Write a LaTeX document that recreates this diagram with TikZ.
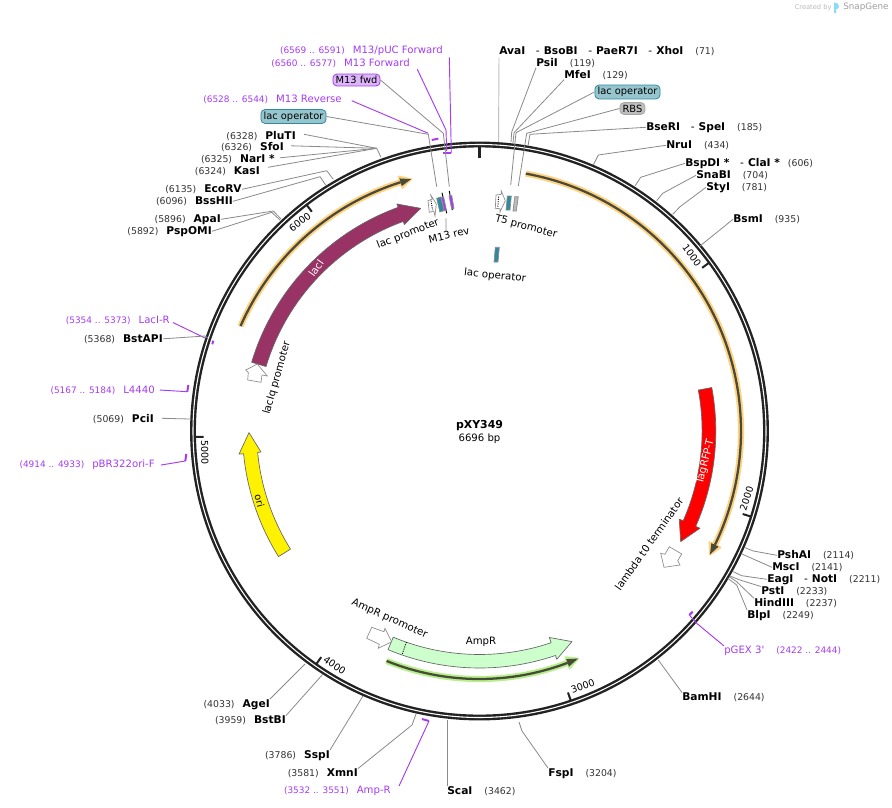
\documentclass[tikz,border=0pt]{standalone}
\usepackage{fontspec}
\setmainfont{DejaVu Sans}
\newfontfamily\plainfam{DejaVu Sans}
\definecolor{ringc}{HTML}{222222}
\definecolor{leadc}{HTML}{8A8A8A}
\definecolor{primc}{HTML}{A63CF0}
\definecolor{posc}{HTML}{333333}
\definecolor{halo}{HTML}{FFD27F}
\definecolor{halog}{HTML}{B5F08A}
\definecolor{dark}{HTML}{4A4A3A}
\definecolor{lacblue}{HTML}{2F8A9E}
\definecolor{maroon}{HTML}{993366}
\tikzset{
  x=0.75pt,y=0.75pt,
  leader/.style={draw=leadc,line width=0.6pt},
  pleader/.style={draw=primc,line width=0.7pt},
  brk/.style={draw=primc,line width=1.5pt},
  txt/.style={inner sep=0pt,font=\fontsize{7.7}{9.6}\selectfont,text=black},
  slab/.style={inner sep=0pt,font=\fontsize{8}{9.6}\selectfont,text=black,yshift=-0.6pt},
  ptxt/.style={inner sep=0pt,font=\fontsize{7.6}{9.6}\selectfont,text=primc,yshift=-0.4pt},
  pill/.style={rounded corners=3pt,inner xsep=2pt,inner ysep=1.6pt,line width=0.6pt,font=\fontsize{7.4}{9}\selectfont,text=black},
  feat/.style={draw=gray!90,line width=0.5pt},
  ticklab/.style={inner sep=0pt,font=\fontsize{7.2}{9}\selectfont,text=black},
}
\newcommand{\ps}[1]{{\fontsize{7}{9}\selectfont\color{posc}#1}}
\newcommand{\pp}[1]{{\fontsize{6.7}{9}\selectfont #1}}
\newcommand{\gp}{\hspace{8pt}-\hspace{3pt}}
\newcommand{\rsite}[5]{\node[slab,anchor=west] (#1) at (#2,-#3) {\textbf{#4}\hspace{9pt}\ps{#5}};}
\newcommand{\lsite}[5]{\node[slab,anchor=east] (#1) at (#2,-#3) {\ps{#5}\hspace{6pt}\textbf{#4}};}
\newcommand{\leads}[7][leader]{%
  \coordinate (#2a) at (#4,-#5);\coordinate (#2b) at (#6,-#7);
  \draw[#1] (#3) -- (#2a) -- (#2b);}
% curved arrow: fill, r1, r2, r1o, r2o, rt, a-start, a-shoulder, a-tip
\newcommand{\garrow}[9]{%
  \draw[draw=gray!80!black,line width=0.5pt,fill=#1,line join=round] (#7:#3) arc[start angle=#7,end angle=#8,radius=#3] -- (#8:#5) -- (#9:#6) -- (#8:#4) -- (#8:#2) arc[start angle=#8,end angle=#7,radius=#2] -- cycle;}
% thin line arrow with halo: halo, r, start, tip, base
\newcommand{\harrow}[5]{%
  \draw[#1,line width=4.6pt] (#3:#2) arc[start angle=#3,end angle=#5,radius=#2];
  \fill[#1,draw=#1,line width=1.4pt,line join=round] (#5:#2+6) -- (#4:#2) -- (#5:#2-6) -- cycle;
  \draw[dark,line width=1.7pt] (#3:#2) arc[start angle=#3,end angle=#5,radius=#2];
  \fill[dark] (#5:#2+4) -- (#4:#2) -- (#5:#2-4) -- cycle;}
\newcommand{\gtick}[3]{%
  \draw[ringc,line width=1.5pt] (#1:284.5) -- (#1:276);
  \pgfmathsetmacro{\lblang}{#1+3.3}
  \node[ticklab,rotate=#3] (tick#2) at (\lblang:275.5) {#2};}
\begin{document}
\begin{tikzpicture}
\useasboundingbox (0,0) rectangle (892,-807);
\fill[white] (0,0) rectangle (892,-807);

% logo
\node[inner sep=0pt,font=\fontsize{5}{6}\selectfont,text=gray!55,anchor=west] (created) at (794.5,-7.5) {Created by};
\fill[cyan!45] (834,-2.5) .. controls (840,-2.5) and (840.5,-9) .. (836,-9.5) -- (836,-13) -- (834,-13) -- cycle;
\node[inner sep=0pt,font=\fontsize{6.6}{7}\selectfont,text=gray!75,anchor=west] (snap) at (843,-7.5) {SnapGene};

\begin{scope}[shift={(479.5,-431)}]
  \draw[ringc,line width=4.4pt] (0,0) circle[radius=286.5];
  \draw[white,line width=0.8pt] (0,0) circle[radius=286.5];
  \draw[ringc,line width=2.2pt] (90:285) -- (90:273);
  \gtick{36.24}{1000}{-53.76}
  \gtick{-17.5}{2000}{72.5}
  \gtick{-71.3}{3000}{18.7}
  \gtick{-125}{4000}{-35}
  \gtick{-178.8}{5000}{-88.8}
  \gtick{127.4}{6000}{37.4}
  \harrow{halo}{261.5}{79.8}{-28.2}{-25.8}
  \harrow{halo}{261}{156.3}{105.2}{107.6}
  \harrow{halog}{248}{-112}{-66.6}{-69.2}
  \garrow{red}{222.6}{236.3}{218.3}{241}{229.6}{10.6}{-23.8}{-28.8}
  \garrow{yellow}{222.9}{237}{219.5}{241.6}{230.5}{212}{185.5}{180.4}
  \garrow{green!20}{223.5}{237}{218}{241}{230}{-112.7}{-71.3}{-66.3}
  \garrow{maroon}{223}{238}{219.7}{241.6}{230.3}{163.2}{110}{104.8}
  \draw[black,densely dotted,line width=0.7pt] (-109.1:223.5) -- (-109.1:237);
\end{scope}

% open promoter / terminator arrows
\draw[feat,fill=white] (366.7,-638.3) -- (371.7,-627.3) -- (384,-631.7) -- (385,-628.3) -- (391.7,-641.7) -- (378.3,-648.3) -- (379.3,-644.3) -- cycle;
\draw[feat,fill=white] (257.3,-364) -- (267.3,-376) -- (262,-375) -- (261,-382.3) -- (247.7,-380) -- (248.3,-372.3) -- (245.7,-370) -- cycle;
\draw[feat,fill=white] (669.3,-546.7) -- (681.7,-554) -- (677.7,-560.7) -- (680,-565) -- (664,-567.3) -- (660.7,-553.3) -- (665,-554.3) -- cycle;
\draw[feat,fill=white] (496,-195) -- (501.3,-194.3) -- (501.3,-191) -- (505.3,-200.7) -- (500,-212) -- (500,-208.7) -- (495.3,-208.3) -- cycle;
\draw[black,densely dotted,line width=0.7pt] (498.6,-196.7) -- (497.8,-207.3);
\draw[feat,fill=white] (428,-200.7) -- (432.3,-199) -- (430.3,-194.3) -- (436.3,-204) -- (435,-216) -- (433.7,-211) -- (429.3,-212.3) -- cycle;
\draw[black,densely dotted,line width=0.7pt] (431,-200.7) -- (432.6,-210);
\draw[feat,fill=lacblue] (507.3,-196) -- (511.3,-196) -- (510,-210) -- (506,-210) -- cycle;
\draw[feat,fill=gray!55] (514.7,-196.7) -- (518.3,-196.7) -- (516.3,-211) -- (513,-211) -- cycle;
\draw[feat,fill=lacblue] (495.3,-247.3) -- (499.3,-247.3) -- (498,-262) -- (494,-262) -- cycle;
\draw[feat,fill=lacblue] (436.7,-198.3) -- (440.7,-197) -- (444,-210.7) -- (439.8,-212) -- cycle;
\draw[black,line width=0.7pt] (442,-192.7) -- (446.7,-213.3);
\draw[feat,fill=primc] (441.3,-197.3) -- (443.6,-196.7) -- (446.4,-210) -- (444.2,-210.7) -- cycle;
\draw[black,line width=0.7pt] (449.3,-191) -- (452.7,-210);
\draw[feat,fill=primc] (449,-196) -- (451.7,-195.3) -- (454,-208.3) -- (451.7,-209.3) -- cycle;

% centre
\node[inner sep=0pt,font=\fontsize{8.2}{9}\bfseries\selectfont] (title) at (479.5,-426) {pXY349};
\node[inner sep=0pt,font=\fontsize{7.6}{9}\selectfont] (size) at (479.5,-438.5) {6696 bp};

% feature labels
\node[inner sep=0pt,font=\fontsize{7.8}{9}\selectfont,text=white,rotate=76] (tagl) at (705.5,-462) {TagRFP-T};
\node[inner sep=0pt,font=\fontsize{7.8}{9}\selectfont,text=white,rotate=55] (lacil) at (316,-268) {lacI};
\node[inner sep=0pt,font=\fontsize{7.4}{9}\selectfont,rotate=-75] (oril) at (259.5,-501) {ori};
\node[inner sep=0pt,font=\fontsize{7.6}{9}\selectfont] (ampl) at (481,-641.5) {AmpR};
\node[txt,rotate=-24] (amppl) at (389.5,-619) {AmpR promoter};
\node[txt,rotate=74] (lacql) at (277,-378) {lacIq promoter};
\node[txt,rotate=54.7] (laml) at (649,-544) {lambda t0 terminator};
\node[txt,rotate=21.5] (lacpl) at (408,-234) {lac promoter};
\node[txt,rotate=14] (m13rl) at (449,-235) {M13 rev};
\node[txt,rotate=-15] (t5l) at (526,-227) {T5 promoter};
\node[txt,rotate=-6] (lacol) at (495,-276) {lac operator};
\coordinate (m13rtop) at (446,-218.3);
\draw[leader] (m13rl.north) ++(-2,0) -- (m13rtop);

% top right sites
\node[slab,anchor=west] (ava) at (499,-50) {\textbf{AvaI}\gp\textbf{BsoBI}\gp\textbf{PaeR7I}\gp\textbf{XhoI}\hspace{9pt}\ps{(71)}};
\coordinate (ava1) at (499,-57.5);\coordinate (ava2) at (498.5,-142);
\draw[draw=gray!50,line width=0.7pt] (ava1) -- (ava2);
\rsite{psi}{536}{62}{PsiI}{(119)}
\leads{psia}{psi.south west}{511.7}{132}{511}{142}
\rsite{mfe}{564}{74}{MfeI}{(129)}
\leads{mfel}{mfe.south west}{514}{132.7}{513}{143}
\node[pill,draw=lacblue,fill=lacblue!50,anchor=west] (lo1) at (594.5,-92) {lac operator};
\leads{lo1l}{lo1.west}{516}{132.7}{510.7}{185}
\node[pill,draw=gray!70,fill=gray!50,anchor=west] (rbs) at (619.5,-108.5) {RBS};
\leads{rbsl}{rbs.west}{526.7}{133.3}{518.3}{186}
\node[slab,anchor=west] (bse) at (646,-126.5) {\textbf{BseRI}\gp\textbf{SpeI}\hspace{9pt}\ps{(185)}};
\leads{bsel}{bse.west}{530}{134.3}{528}{146}
\rsite{nru}{666}{144.5}{NruI}{(434)}
\leads{nrul}{nru.west}{598.3}{155}{593.3}{165}
\node[slab,anchor=west] (bsp) at (685,-162.5) {\textbf{BspDI *}\gp\textbf{ClaI *}\hspace{6pt}\ps{(606)}};
\leads{bspl}{bsp.west}{640.7}{177.3}{635}{186}
\rsite{sna}{696}{174.5}{SnaBI}{(704)}
\leads{snal}{sna.west}{662.7}{193.3}{656.7}{200.7}
\rsite{sty}{706}{186.5}{StyI}{(781)}
\leads{styl}{sty.west}{680}{206.7}{672.7}{214.3}
\rsite{bsm}{733}{218.5}{BsmI}{(935)}
\leads{bsml}{bsm.west}{703.3}{243.3}{700}{246}

% right lower sites
\rsite{psh}{777}{554.5}{PshAI}{(2114)}
\leads{pshl}{psh.west}{753.3}{551}{745}{547.7}
\rsite{msc}{772}{566.5}{MscI}{(2141)}
\leads{mscl}{msc.west}{748}{556.7}{741.7}{554}
\node[slab,anchor=west] (eag) at (767,-578.5) {\textbf{EagI}\gp\textbf{NotI}\hspace{9pt}\ps{(2211)}};
\leads{eagl}{eag.west}{741.7}{575.7}{733.3}{571.7}
\rsite{pst}{761}{590.5}{PstI}{(2233)}
\leads{pstl}{pst.north west}{740}{580}{730}{576}
\rsite{hin}{754}{602.5}{HindIII}{(2237)}
\leads{hinl}{hin.north west}{736.7}{581.7}{729.3}{576.7}
\rsite{blp}{747}{614.5}{BlpI}{(2249)}
\leads{blpl}{blp.north west}{736.7}{585}{727.7}{578.3}
\node[ptxt,anchor=west] (pgex) at (724,-650.5) {pGEX {\plainfam 3'}\hspace{9pt}\pp{(2422 .. 2444)}};
\coordinate (pgexa) at (696.7,-623.3);\coordinate (pgexb) at (689.3,-615);
\draw[pleader] (pgex.north west) -- (pgexa) -- (pgexb);
\coordinate (pgexc) at (692.7,-611.7);\draw[brk] (pgexb) -- (pgexc);
\rsite{bam}{682}{696.5}{BamHI}{(2644)}
\coordinate (baml) at (658.3,-660);\draw[leader] (bam.north west) -- (baml);

% bottom
\rsite{fsp}{548}{772.5}{FspI}{(3204)}
\leads{fspl}{fsp.north west}{522}{731}{519}{722}
\rsite{sca}{447}{790.5}{ScaI}{(3462)}
\coordinate (scal) at (447,-720);\draw[leader] (sca.north west) -- (scal);
\node[ptxt,anchor=east] (ampr) at (391,-790.5) {\pp{(3532 .. 3551)}\hspace{6pt}Amp-R};
\coordinate (ampra) at (429,-721);\coordinate (amprb) at (422,-719);
\draw[pleader] (ampr.north east) ++(8,0) -- (ampra);\draw[brk] (ampra) -- (amprb);
\lsite{xmn}{358}{772.5}{XmnI}{(3581)}
\leads{xmnl}{xmn.north east}{412}{725}{416}{714}
\lsite{ssp}{330}{754.5}{SspI}{(3786)}
\coordinate (sspl) at (363,-696);\draw[leader] (ssp.north east) -- (sspl);
\lsite{bst}{286}{719.5}{BstBI}{(3959)}
\coordinate (bstl) at (323,-674);\draw[leader] (bst.north east) -- (bstl);
\lsite{age}{270}{703.5}{AgeI}{(4033)}
\coordinate (agel) at (305,-664);\draw[leader] (age.north east) -- (agel);

% top left
\node[ptxt,anchor=east] (puc) at (443,-50.5) {\pp{(6569 .. 6591)}\hspace{6pt}M13/pUC Forward};
\coordinate (puca) at (449.3,-57.3);\coordinate (pucb) at (451.3,-152.7);\coordinate (pucc) at (443.3,-152.7);
\draw[pleader] (puca) -- (pucb);\draw[brk] (pucb) -- (pucc);
\node[ptxt,anchor=east] (m13f) at (410,-62.5) {\pp{(6560 .. 6577)}\hspace{6pt}M13 Forward};
\coordinate (m13fa) at (417.3,-69.3);\coordinate (m13fb) at (446,-130);\coordinate (m13fc) at (446.7,-151);
\draw[pleader] (m13fa) -- (m13fb) -- (m13fc);
\node[pill,draw=primc,fill=primc!38,anchor=center] (fwd) at (356.5,-80) {M13 fwd};
\leads{fwdl}{fwd.east}{443.3}{133.3}{449.3}{186.7}
\node[ptxt,anchor=east] (m13r) at (342,-98.5) {\pp{(6528 .. 6544)}\hspace{6pt}M13 Reverse};
\coordinate (m13ra) at (351.7,-100.7);\coordinate (m13rb) at (428.3,-133.3);\coordinate (m13rc) at (431.7,-140);\coordinate (m13rd) at (438.3,-138.7);
\draw[pleader] (m13ra) -- (m13rb);\draw[brk] (m13rc) -- (m13rd);
\node[pill,draw=lacblue,fill=lacblue!50,anchor=center] (lo2) at (293.5,-116.5) {lac operator};
\leads{lo2l}{lo2.east}{428.3}{134.3}{436.7}{186.7}
\lsite{plu}{296}{135}{PluTI}{(6328)}
\coordinate (hub) at (376.7,-148.3);\coordinate (hubr) at (381,-157.3);
\coordinate (plua) at (304,-134.3);
\draw[leader] (plua) -- (hub) -- (hubr);
\lsite{sfo}{284}{146.5}{SfoI}{(6326)}
\draw[leader] (sfo.east) ++(7,1.5) -- (hub);
\lsite{nar}{275}{158.5}{NarI *}{(6325)}
\draw[leader] (nar.east) ++(5,1.5) -- (hub);
\lsite{kas}{260}{170.5}{KasI}{(6324)}
\draw[leader] (kas.east) ++(8,4) -- (hub);
\lsite{eco}{242}{188.5}{EcoRV}{(6135)}
\leads{ecol}{eco.east}{326.7}{170.7}{333.3}{179.3}
\lsite{bss}{233}{200.5}{BssHII}{(6096)}
\leads{bssl}{bss.east}{320}{176.7}{325.7}{185}
\lsite{apa}{221}{218.5}{ApaI}{(5896)}
\leads{apal}{apa.east}{273.3}{211}{281}{219}
\lsite{pom}{212}{230.5}{PspOMI}{(5892)}
\leads{poml}{pom.east}{271.7}{212.3}{280}{220}

% left
\node[ptxt,anchor=east] (lacir) at (170,-319.5) {\pp{(5354 .. 5373)}\hspace{6pt}LacI-R};
\coordinate (lacira) at (205,-338);\coordinate (lacirb) at (213.3,-340.7);\coordinate (lacirc) at (212.3,-344.3);
\draw[pleader] (lacir.east) ++(3,-2.5) -- (lacira);\draw[brk] (lacirb) -- (lacirc);
\lsite{bsta}{163}{338}{BstAPI}{(5368)}
\leads{bstal}{bsta.east}{205}{336}{208}{338}
\node[ptxt,anchor=east] (l44) at (155,-389.5) {\pp{(5167 .. 5184)}\hspace{6pt}L4440};
\coordinate (l44a) at (187.3,-391.7);\coordinate (l44b) at (188.3,-385);
\draw[pleader] (l44.east) ++(5,0) -- (l44a);\draw[brk] (l44a) -- (l44b);
\lsite{pci}{154}{418.5}{PciI}{(5069)}
\coordinate (pcil) at (190,-419);\draw[leader] (pci.east) ++(8,1) -- (pcil);
\node[ptxt,anchor=east] (pbr) at (155,-464.5) {\pp{(4914 .. 4933)}\hspace{6pt}pBR322ori-F};
\coordinate (pbra) at (185.3,-461);\coordinate (pbrb) at (186.3,-454);
\draw[pleader] (pbr.east) ++(6,0) -- (pbra);\draw[brk] (pbra) -- (pbrb);
\end{tikzpicture}
\end{document}
